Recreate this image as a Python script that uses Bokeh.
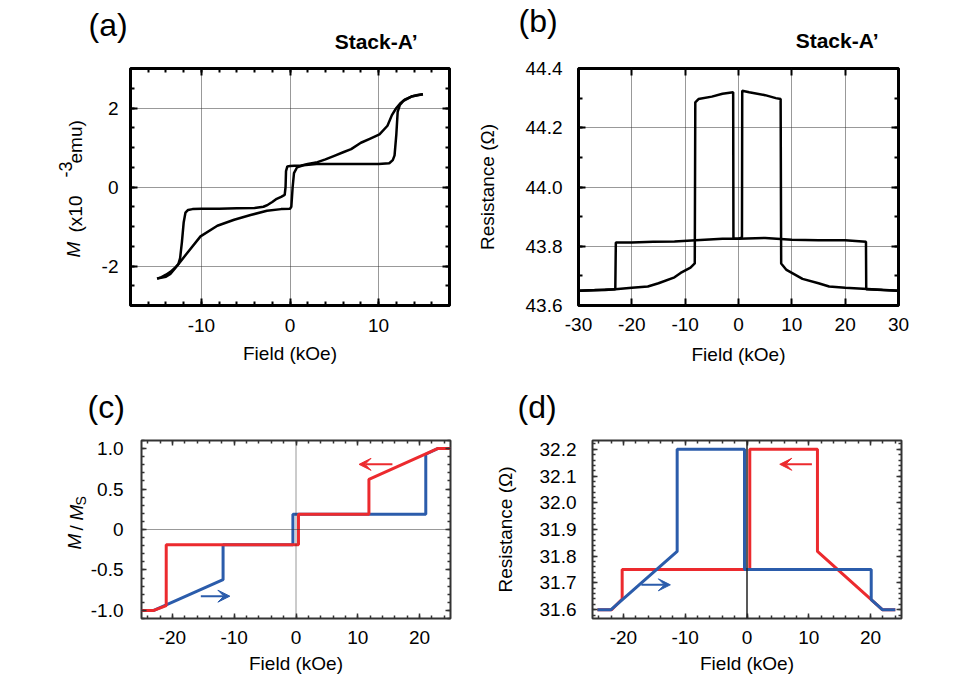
import numpy as np
from bokeh.plotting import figure
from bokeh.models import FixedTicker, LinearAxis, Span, Arrow, VeeHead, Range1d, Title
from bokeh.layouts import column, row
from bokeh.embed import file_html
from bokeh.resources import INLINE

FONT = "Liberation Sans"
RED = "#ec2a2e"
BLUE = "#2b5cab"

# ---------------- data ----------------
# (a) magnetization loop, Stack-A'
a_down_field = [15.0, 14.4, 13.7, 13.0, 12.5, 12.0, 11.5, 11.0, 10.1, 9.0, 8.0, 6.9, 6.0, 5.0, 4.0,
                3.1, 2.0, 1.2, 0.5, 0.0, -0.3, -0.45, -0.5, -0.6, -1.0, -1.5, -2.0, -2.5, -3.0, -4.0,
                -6.0, -8.0, -10.0, -11.0, -11.5, -11.8, -12.0, -12.2, -12.4, -12.6, -13.0, -13.5,
                -14.0, -14.5, -15.0]
a_down_m = [2.35, 2.33, 2.29, 2.22, 2.13, 2.0, 1.82, 1.55, 1.33, 1.22, 1.12, 0.96, 0.88, 0.79, 0.7,
            0.63, 0.58, 0.54, 0.54, 0.53, 0.52, 0.4, 0.0, -0.2, -0.25, -0.3, -0.38, -0.45, -0.5, -0.53,
            -0.54, -0.55, -0.55, -0.56, -0.58, -0.65, -0.9, -1.4, -1.8, -1.95, -2.05, -2.15,
            -2.22, -2.28, -2.32]
a_up_field = [-15.0, -14.0, -13.5, -12.75, -11.6, -10.1, -8.2, -6.3, -4.45, -2.6, -1.0, 0.0, 0.15,
              0.3, 0.45, 0.8, 1.5, 3.0, 6.0, 10.0, 11.2, 11.6, 11.8, 12.0, 12.15, 12.4, 12.8, 13.7,
              15.0]
a_up_m = [-2.32, -2.27, -2.2, -2.0, -1.67, -1.25, -0.98, -0.83, -0.71, -0.6, -0.56, -0.55, -0.5,
          0.0, 0.35, 0.5, 0.55, 0.58, 0.58, 0.58, 0.6, 0.68, 0.8, 1.33, 1.9, 2.08, 2.18, 2.29, 2.35]

# (b) resistance, Stack-A'
b_up_field = [-30, -25, -23.1, -20, -17, -15, -12, -10.85, -9, -8.2, -8.1, -7.5, -5, -3, -1.0,
              -0.95, 0, 5, 10, 15, 20, 23.9, 23.95, 27, 30]
b_up_r = [43.65, 43.652, 43.655, 43.66, 43.664, 43.675, 43.695, 43.71, 43.728, 43.742, 44.286,
          44.297, 44.305, 44.315, 44.32, 43.826, 43.825, 43.828, 43.822, 43.82, 43.82, 43.815,
          43.655, 43.652, 43.65]
b_down_field = [30, 25, 20, 17, 15, 12, 10, 9, 8.0, 7.9, 7.0, 5.0, 2.0, 0.7, 0.65, 0, -3, -8, -12,
                -16, -20, -23.0, -23.1, -27, -30]
b_down_r = [43.65, 43.655, 43.66, 43.664, 43.675, 43.69, 43.71, 43.72, 43.742, 44.297, 44.30,
            44.31, 44.32, 44.325, 43.83, 43.825, 43.825, 43.82, 43.816, 43.815, 43.813, 43.813,
            43.655, 43.652, 43.65]

# (c) model M/Ms
c_red_field = [25.0, 22.9, 11.8, 11.8, 0.4, 0.4, -21.0, -21.0, -23.0, -25.0]
c_red_m = [1.0, 1.0, 0.62, 0.19, 0.19, -0.19, -0.19, -0.94, -1.0, -1.0]
c_blue_field = [-25.0, -23.0, -11.8, -11.8, -0.5, -0.5, 21.0, 21.0, 22.9, 25.0]
c_blue_m = [-1.0, -1.0, -0.62, -0.19, -0.19, 0.19, 0.19, 0.93, 1.0, 1.0]

# (d) model resistance
d_red_field = [24.0, 21.9, 11.4, 11.4, 0.45, 0.45, -20.2, -20.2, -21.9, -24.2]
d_red_r = [31.6, 31.6, 31.818, 32.2, 32.2, 31.75, 31.75, 31.64, 31.6, 31.6]
d_blue_field = [-24.2, -22.0, -11.3, -11.3, -0.4, -0.4, 20.1, 20.1, 21.9, 24.0]
d_blue_r = [31.6, 31.6, 31.818, 32.2, 32.2, 31.75, 31.75, 31.638, 31.6, 31.6]

# sweep-direction arrows (x_start, x_end, y)
c_red_arrow = [15.6, 10.2, 0.805]
c_blue_arrow = [-15.4, -10.7, -0.824]
d_red_arrow = [10.5, 5.3, 32.144]
d_blue_arrow = [-17.1, -12.4, 31.693]

# ticks
a_xticks = [-10, 0, 10]; a_xlabels = ["-10", "0", "10"]
a_yticks = [-2, 0, 2]; a_ylabels = ["-2", "0", "2"]
b_xticks = [-30, -20, -10, 0, 10, 20, 30]; b_xlabels = ["-30", "-20", "-10", "0", "10", "20", "30"]
b_yticks = [43.6, 43.8, 44.0, 44.2, 44.4]; b_ylabels = ["43.6", "43.8", "44.0", "44.2", "44.4"]
c_xticks = [-20, -10, 0, 10, 20]; c_xlabels = ["-20", "-10", "0", "10", "20"]
c_yticks = [-1.0, -0.5, 0, 0.5, 1.0]; c_ylabels = ["-1.0", "-0.5", "0", "0.5", "1.0"]
d_xticks = [-20, -10, 0, 10, 20]; d_xlabels = ["-20", "-10", "0", "10", "20"]
d_yticks = [31.6, 31.7, 31.8, 31.9, 32.0, 32.1, 32.2]
d_ylabels = ["31.6", "31.7", "31.8", "31.9", "32.0", "32.1", "32.2"]


def minors(lo, hi, step):
    n = int(round((hi - lo) / step))
    return [round(lo + i * step, 4) for i in range(n + 1)]


def key(t):
    return int(t) if float(t).is_integer() else t


def style_axis(ax, ticks, minor, labels, show, tin, min_in, tw, color, standoff):
    ax.ticker = FixedTicker(ticks=ticks, minor_ticks=minor)
    ax.major_tick_in = tin
    ax.major_tick_out = 0
    ax.minor_tick_in = min_in
    ax.minor_tick_out = 0
    ax.major_tick_line_width = tw
    ax.minor_tick_line_width = tw
    ax.major_tick_line_color = color
    ax.minor_tick_line_color = color
    ax.axis_line_color = None
    ax.major_label_text_font = FONT
    ax.major_label_standoff = standoff
    ax.axis_label_text_font = FONT
    ax.axis_label_text_font_size = "19px"
    ax.axis_label_text_font_style = "normal"
    ax.axis_label_text_color = "black"
    if show:
        ax.major_label_text_font_size = "19px"
        ax.major_label_text_color = "black"
        ax.major_label_overrides = {key(t): l for t, l in zip(ticks, labels)}
    else:
        ax.major_label_text_font_size = "1px"
        ax.major_label_text_color = None


def make_fig(w, h, bl, br, bt, bb, xr, yr, ow, oc,
             xt, xl, xm, yt, yl, ym, tin, min_in, tw, tc, xso, yso):
    p = figure(width=w, height=h, x_range=Range1d(*xr), y_range=Range1d(*yr),
               output_backend="svg", toolbar_location=None, title=None,
               x_axis_location=None, y_axis_location=None,
               min_border_left=bl, min_border_right=br, min_border_top=bt, min_border_bottom=bb)
    p.outline_line_color = oc
    p.outline_line_width = ow
    p.background_fill_color = "white"
    p.border_fill_color = "white"
    bottom = LinearAxis()
    style_axis(bottom, xt, xm, xl, True, tin, min_in, tw, tc, xso)
    p.add_layout(bottom, "below")
    left = LinearAxis()
    style_axis(left, yt, ym, yl, True, tin, min_in, tw, tc, yso)
    p.add_layout(left, "left")
    top = LinearAxis()
    style_axis(top, xt, xm, xl, False, tin, min_in, tw, tc, 0)
    p.add_layout(top, "above")
    right = LinearAxis()
    style_axis(right, yt, ym, yl, False, tin, min_in, tw, tc, 0)
    p.add_layout(right, "right")
    p.xgrid.ticker = FixedTicker(ticks=xt)
    p.ygrid.ticker = FixedTicker(ticks=yt)
    return p, bottom, left


def add_title(p, text, size, align, offset, standoff, style="normal", valign="bottom", side="above"):
    p.add_layout(Title(text=text, align=align, offset=offset, standoff=standoff,
                       vertical_align=valign, text_font=FONT, text_font_size=size,
                       text_font_style=style, text_color="black"), side)


def add_arrow(p, spec, color):
    p.add_layout(Arrow(x_start=spec[0], x_end=spec[1], y_start=spec[2], y_end=spec[2],
                       line_color=color, line_width=2,
                       end=VeeHead(size=12, fill_color=color, line_color=color)))


# ---------------- (a) ----------------
pa, pa_x, pa_y = make_fig(472, 372, 130, 23, 67, 67, (-18, 18), (-3, 3), 3, "black",
                          a_xticks, a_xlabels, minors(-18, 18, 2), a_yticks, a_ylabels,
                          minors(-3, 3, 0.5), 7, 4, 2, "black", 13, 12)
for g in (pa.xgrid, pa.ygrid):
    g.grid_line_color = "#333333"
    g.grid_line_dash = "1 1"
    g.grid_line_width = 1
pa_x.axis_label = "Field (kOe)"
pa_x.axis_label_standoff = 8
pa.line(a_down_field, a_down_m, line_color="black", line_width=2.5)
pa.line(a_up_field, a_up_m, line_color="black", line_width=2.5)
add_title(pa, "Stack-A\u2019", "21px", "right", 32, 27, "bold", "top")
add_title(pa, "(a)", "32px", "left", -42, -52)
# y-axis label "M (x10^-3 emu)" built from pieces on the left side
add_title(pa, "M", "19px", "left", 48, 30, "italic", side="left")
add_title(pa, "(x10", "19px", "left", 73, -80.4, side="left")
add_title(pa, "emu)", "19px", "left", 142, -80.4, side="left")
add_title(pa, "-3", "18px", "left", 128, -52, side="left")

# ---------------- (b) ----------------
pb, pb_x, pb_y = make_fig(480, 372, 106, 54, 68, 66, (-30, 30), (43.6, 44.4), 3, "black",
                          b_xticks, b_xlabels, [], b_yticks, b_ylabels, minors(43.6, 44.4, 0.1),
                          7, 4, 2, "black", 12, 16)
for g in (pb.xgrid, pb.ygrid):
    g.grid_line_color = "#333333"
    g.grid_line_dash = "1 1"
    g.grid_line_width = 1
pb_x.axis_label = "Field (kOe)"
pb_x.axis_label_standoff = 10
pb_y.axis_label = "Resistance (\u03a9)"
pb_y.axis_label_standoff = 25
pb.line(b_up_field, b_up_r, line_color="black", line_width=2.5)
pb.line(b_down_field, b_down_r, line_color="black", line_width=2.5)
add_title(pb, "Stack-A\u2019", "21px", "right", 20, 29, "bold", "top")
add_title(pb, "(b)", "32px", "left", -60, -49)

# ---------------- (c) ----------------
pc, pc_x, pc_y = make_fig(472, 304, 141, 22, 68, 55, (-25, 25), (-1.1, 1.1), 2, "#333333",
                          c_xticks, c_xlabels, minors(-24, 24, 2), c_yticks, c_ylabels,
                          minors(-1.1, 1.1, 0.1), 5, 3, 1.5, "#333333", 12, 18)
pc.xgrid.visible = False
pc.ygrid.visible = False
pc.add_layout(Span(location=0, dimension="height", line_color="#333333", line_dash="1 1", line_width=1))
pc.add_layout(Span(location=0, dimension="width", line_color="#333333", line_dash="1 1", line_width=1))
pc_x.axis_label = "Field (kOe)"
pc_x.axis_label_standoff = 6
pc.line(c_blue_field, c_blue_m, line_color=BLUE, line_width=3)
pc.line(c_red_field, c_red_m, line_color=RED, line_width=3)
add_arrow(pc, c_red_arrow, RED)
add_arrow(pc, c_blue_arrow, BLUE)
add_title(pc, "(c)", "32px", "left", -54, 27.4, valign="top")
# y-axis label "M / M_S" built from pieces on the left side
add_title(pc, "M", "19px", "left", 69, 5.8, "italic", side="left")
add_title(pc, "/", "19px", "left", 88, -56.2, side="left")
add_title(pc, "M", "19px", "left", 98, -56.2, "italic", side="left")
add_title(pc, "S", "14px", "left", 113, -61.6, side="left")

# ---------------- (d) ----------------
pd_, pd_x, pd_y = make_fig(480, 304, 120, 51, 68, 55, (-25, 25), (31.567, 32.233), 2, "#333333",
                           d_xticks, d_xlabels, minors(-24, 24, 2), d_yticks, d_ylabels,
                           minors(31.58, 32.22, 0.02), 5, 3, 1.5, "#333333", 12, 16)
pd_.xgrid.visible = False
pd_.ygrid.visible = False
pd_.add_layout(Span(location=0, dimension="height", line_color="#222222", line_width=1.5))
pd_x.axis_label = "Field (kOe)"
pd_x.axis_label_standoff = 6
pd_y.axis_label = "Resistance (\u03a9)"
pd_y.axis_label_standoff = 21
pd_.line(d_red_field, d_red_r, line_color=RED, line_width=3)
pd_.line(d_blue_field, d_blue_r, line_color=BLUE, line_width=3)
add_arrow(pd_, d_red_arrow, RED)
add_arrow(pd_, d_blue_arrow, BLUE)
add_title(pd_, "(d)", "32px", "left", -75, 27.4, valign="top")

layout = column(row(pa, pb), row(pc, pd_))
open("out.html", "w").write(file_html(layout, INLINE))
